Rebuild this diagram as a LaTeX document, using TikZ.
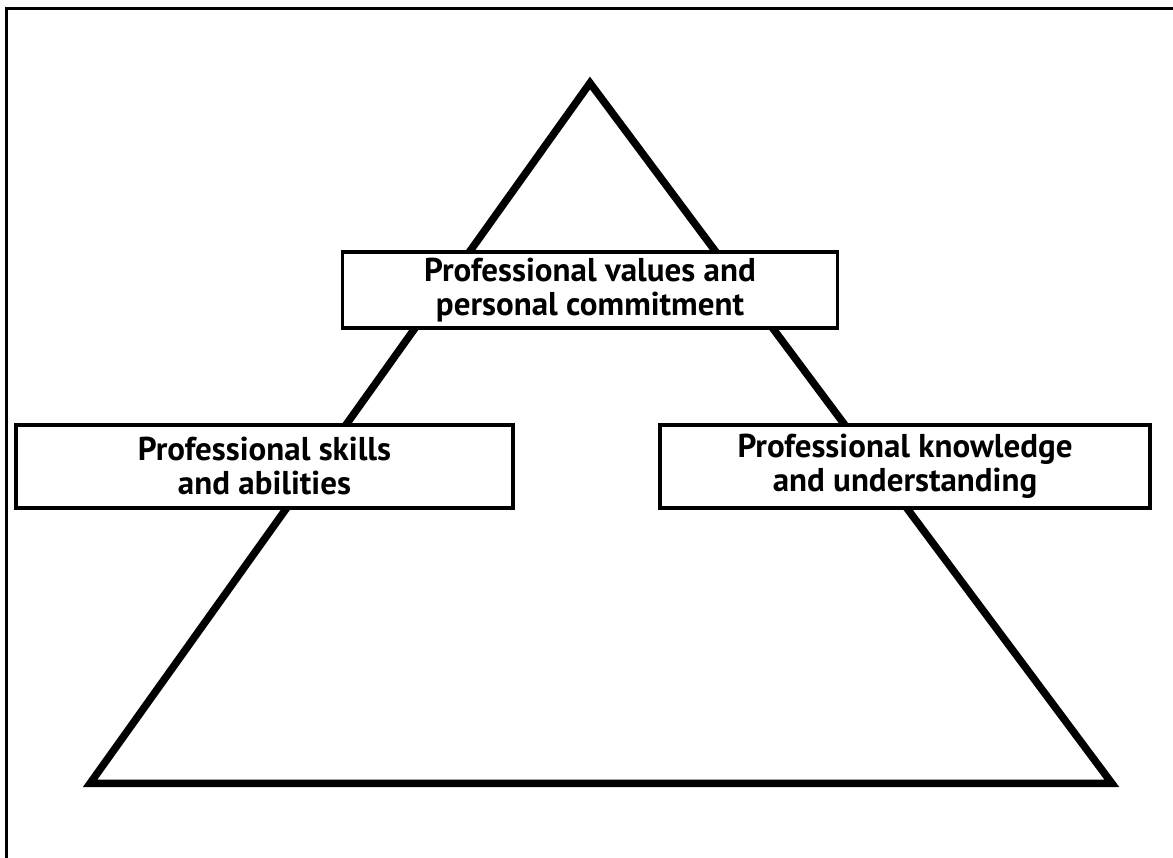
\documentclass[tikz,border=0pt]{standalone}
\usepackage{fontspec}
\setmainfont{PT Sans}
\tikzset{
  facet/.style={draw, line width=3.5, fill=white, align=center,
    font=\fontsize{33}{34}\selectfont\bfseries, inner sep=0pt},
}
\begin{document}
\begin{tikzpicture}[x=1pt, y=1pt]
            \useasboundingbox (0, 0) rectangle (1173, 857);
            \draw[line width=3, line cap=rect] (6, 0) -- (6, 848) -- (1173, 848);
            \coordinate (apex) at (590, 774);
            \coordinate (baseL) at (90, 73.5);
            \coordinate (baseR) at (1112, 73.5);
            \draw[line width=7.5, miter limit=10] (apex) -- (baseL) -- (baseR) -- cycle;
            %\draw[red] (apex) -- (590, 73.5);
            \node[facet, minimum width=495, minimum height=76] (values) at (590, 567)
              {Professional values and\\personal commitment};
            \node[facet, minimum width=497, minimum height=83] (skills) at (264.5, 390.5)
              {Professional skills\\and abilities};
            \node[facet, minimum width=490, minimum height=83] (knowledge) at (905, 390.5)
              {Professional knowledge\\and understanding};
          \end{tikzpicture}
\end{document}
